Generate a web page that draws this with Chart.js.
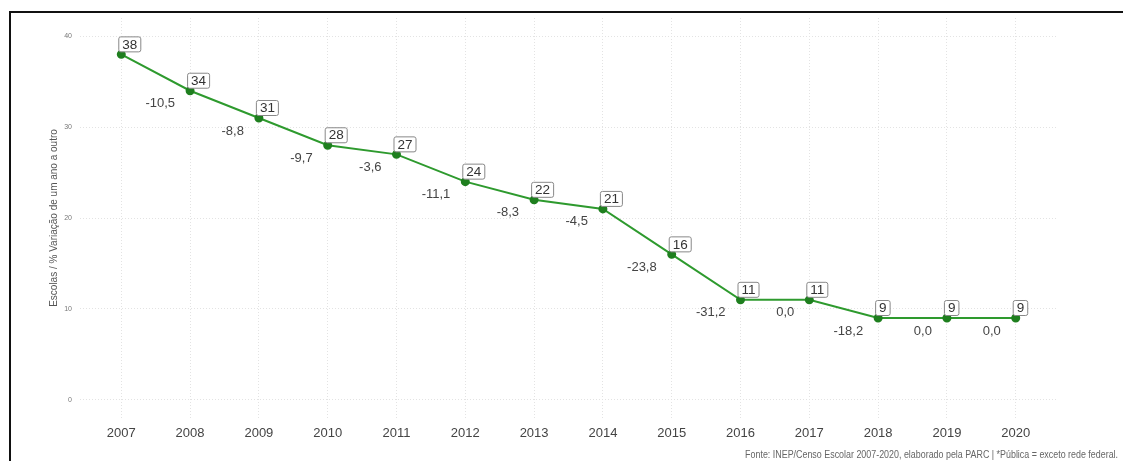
<!DOCTYPE html>
<html>
<head>
<meta charset="utf-8">
<script src="https://cdn.jsdelivr.net/npm/chart.js@4"></script>
<style>
  html, body { margin: 0; padding: 0; background: #fff; overflow: hidden; }
  #wrap { position: relative; width: 1123px; height: 461px; }
  #frame {
    position: absolute; left: 9px; top: 11px; width: 1200px; height: 500px;
    border-top: 2px solid #111; border-left: 2px solid #111; pointer-events: none;
  }
  #fonte {
    position: absolute; right: 5px; top: 449px;
    font-family: "Liberation Sans", sans-serif;
    font-size: 10px; color: #666; white-space: nowrap;
    transform: scaleX(0.89); transform-origin: right center;
  }
</style>
</head>
<body>
<div id="wrap">
  <canvas id="chart" width="1123" height="461"></canvas>
  <div id="frame"></div>
  <div id="fonte">Fonte: INEP/Censo Escolar 2007-2020, elaborado pela PARC | *Pública = exceto rede federal.</div>
</div>
<script>
// data
const anos = [2007, 2008, 2009, 2010, 2011, 2012, 2013, 2014, 2015, 2016, 2017, 2018, 2019, 2020];
const escolas = [38, 34, 31, 28, 27, 24, 22, 21, 16, 11, 11, 9, 9, 9];
const variacao = [null, -10.5, -8.8, -9.7, -3.6, -11.1, -8.3, -4.5, -23.8, -31.2, 0.0, -18.2, 0.0, 0.0];
const yTicks = [0, 10, 20, 30, 40];

const fontFamily = '"Liberation Sans", Arial, sans-serif';

// labels drawn on top of the points
const labelPlugin = {
    id: 'pointLabels',
    afterDatasetsDraw(chart) {
        const ctx = chart.ctx;
        const meta = chart.getDatasetMeta(0);
        ctx.save();
        meta.data.forEach(function(pt, i) {
            // percent change, below-left of point
            if (variacao[i] !== null) {
                ctx.font = '13px ' + fontFamily;
                ctx.fillStyle = '#444';
                ctx.textAlign = 'right';
                ctx.textBaseline = 'middle';
                ctx.fillText(variacao[i].toFixed(1).replace('.', ','), pt.x - 15, pt.y + 13);
            }
            // boxed value, above-right of point
            ctx.font = '13.5px ' + fontFamily;
            var txt = String(escolas[i]);
            var w = ctx.measureText(txt).width + 7;
            var h = 15;
            var bx = pt.x - 3;
            var by = pt.y - 3 - h;
            ctx.beginPath();
            ctx.roundRect(bx + 0.5, by + 0.5, w, h, 2);
            ctx.fillStyle = '#fff';
            ctx.fill();
            ctx.strokeStyle = '#888';
            ctx.lineWidth = 1;
            ctx.stroke();
            ctx.fillStyle = '#333';
            ctx.textAlign = 'center';
            ctx.textBaseline = 'middle';
            ctx.fillText(txt, bx + 0.5 + w / 2, by + h / 2 + 1);
        });
        ctx.restore();
    }
};

var ctx = document.getElementById('chart').getContext('2d');
var chart = new Chart(ctx, {
    type: 'line',
    data: {
        datasets: [{
            data: anos.map(function(a, i) { return { x: a, y: escolas[i] }; }),
            borderColor: '#2e9a2e',
            borderWidth: 2,
            pointBackgroundColor: '#1f7f1f',
            pointBorderColor: '#1f7f1f',
            pointRadius: 3.5,
            tension: 0
        }]
    },
    options: {
        responsive: false,
        animation: false,
        layout: { padding: { top: 18, left: 44, right: 66, bottom: 0 } },
        plugins: {
            legend: { display: false },
            tooltip: { enabled: false }
        },
        scales: {
            x: {
                type: 'linear',
                min: 2006.4,
                max: 2020.6,
                afterBuildTicks: function(s) { s.ticks = anos.map(function(v) { return { value: v }; }); },
                afterFit: function(s) { s.height = 43; },
                grid: { color: '#e3e3e3', lineWidth: 1, drawTicks: false },
                border: { display: false, dash: [1, 2] },
                ticks: {
                    padding: 8,
                    color: '#444',
                    font: { family: fontFamily, size: 13 },
                    maxRotation: 0,
                    callback: function(v) { return String(v); }
                }
            },
            y: {
                min: -2,
                max: 42,
                afterBuildTicks: function(s) { s.ticks = yTicks.map(function(v) { return { value: v }; }); },
                afterFit: function(s) { s.width = 36; },
                grid: { color: '#e3e3e3', lineWidth: 1, drawTicks: false },
                border: { display: false, dash: [1, 2] },
                ticks: {
                    padding: 8,
                    color: '#777',
                    font: { family: fontFamily, size: 7 }
                },
                title: {
                    display: true,
                    text: 'Escolas / % Variação de um ano a outro',
                    color: '#555',
                    font: { family: fontFamily, size: 10 },
                    padding: { top: 4, bottom: 0 }
                }
            }
        }
    },
    plugins: [labelPlugin]
});
</script>
</body>
</html>
